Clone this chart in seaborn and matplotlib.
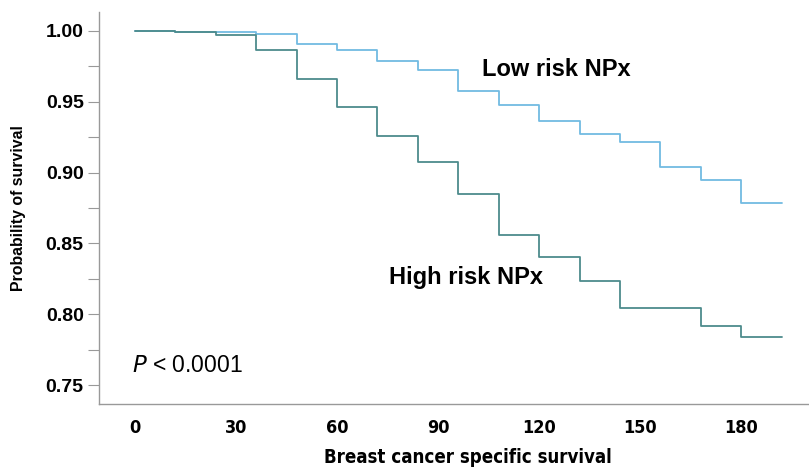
import matplotlib
matplotlib.use("Agg")
import matplotlib.pyplot as plt
import seaborn as sns
import pandas as pd
from matplotlib.ticker import MultipleLocator

# Data
times = [0, 12, 24, 36, 48, 60, 72, 84, 96, 108, 120, 132, 144, 156, 168, 180, 192]
low_risk = [1.0, 0.9995, 0.999, 0.9977, 0.991, 0.9864, 0.979, 0.9725, 0.9576,
            0.9477, 0.9364, 0.9273, 0.9218, 0.9037, 0.8948, 0.8788, 0.8788]
high_risk = [1.0, 0.9995, 0.997, 0.9864, 0.9663, 0.9463, 0.9256, 0.9077, 0.8847,
             0.856, 0.8402, 0.8235, 0.8046, 0.8046, 0.7919, 0.7842, 0.7842]
x_ticks = [0, 30, 60, 90, 120, 150, 180]
y_ticks = [0.75, 0.80, 0.85, 0.90, 0.95, 1.00]

df = pd.DataFrame({
    "time": times + times,
    "surv": low_risk + high_risk,
    "group": ["Low"] * len(times) + ["High"] * len(times),
})

sns.set_theme(style="white")
plt.rcParams["font.family"] = ["Liberation Sans", "DejaVu Sans"]
plt.rcParams["text.color"] = "black"
plt.rcParams["axes.labelcolor"] = "black"
plt.rcParams["xtick.color"] = "black"
plt.rcParams["ytick.color"] = "black"

fig = plt.figure(figsize=(8.09, 4.70), dpi=100)
ax = fig.add_axes([0.1224, 0.1404, 0.8770, 0.8341])

sns.lineplot(data=df, x="time", y="surv", hue="group",
             palette={"Low": "#72bbe2", "High": "#4d8b8c"},
             drawstyle="steps-post", estimator=None, legend=False,
             linewidth=1.3, ax=ax)

ax.set_xlim(-10.7, 200)
ax.set_ylim(0.7366, 1.0134)
ax.set_xticks(x_ticks)
ax.set_yticks(y_ticks)
ax.set_yticklabels([f"{v:.2f}" for v in y_ticks], fontweight="bold", fontsize=14)
ax.set_xticklabels([str(v) for v in x_ticks], fontweight="bold", fontsize=13,
                   family="DejaVu Sans", fontstretch="condensed")
ax.yaxis.set_minor_locator(MultipleLocator(0.025))
ax.tick_params(axis="y", which="both", left=True, length=8, width=0.8,
               color="#999999", labelcolor="black", pad=3)
ax.tick_params(axis="x", which="both", bottom=False, pad=5)

for s in ["top", "right"]:
    ax.spines[s].set_visible(False)
for s in ["left", "bottom"]:
    ax.spines[s].set_color("#999999")
    ax.spines[s].set_linewidth(1.0)

ax.set_xlabel("Breast cancer specific survival", fontweight="bold", fontsize=13.4,
              family="DejaVu Sans", fontstretch="condensed", labelpad=9)
ax.xaxis.set_label_coords(0.52, -0.112)
ax.set_ylabel("Probability of survival", fontweight="bold", fontsize=11.4)
ax.yaxis.set_label_coords(-0.103, 0.5)

ax.text(103, 0.9725, "Low risk NPx", fontweight="bold", fontsize=17, va="center", ha="left")
ax.text(75.5, 0.8258, "High risk NPx", fontweight="bold", fontsize=17, va="center", ha="left")
ax.text(-1, 0.7636, "$\\it{P}$ < 0.0001", fontsize=16.5, va="center", ha="left")

fig.savefig("out.png", dpi=100)
